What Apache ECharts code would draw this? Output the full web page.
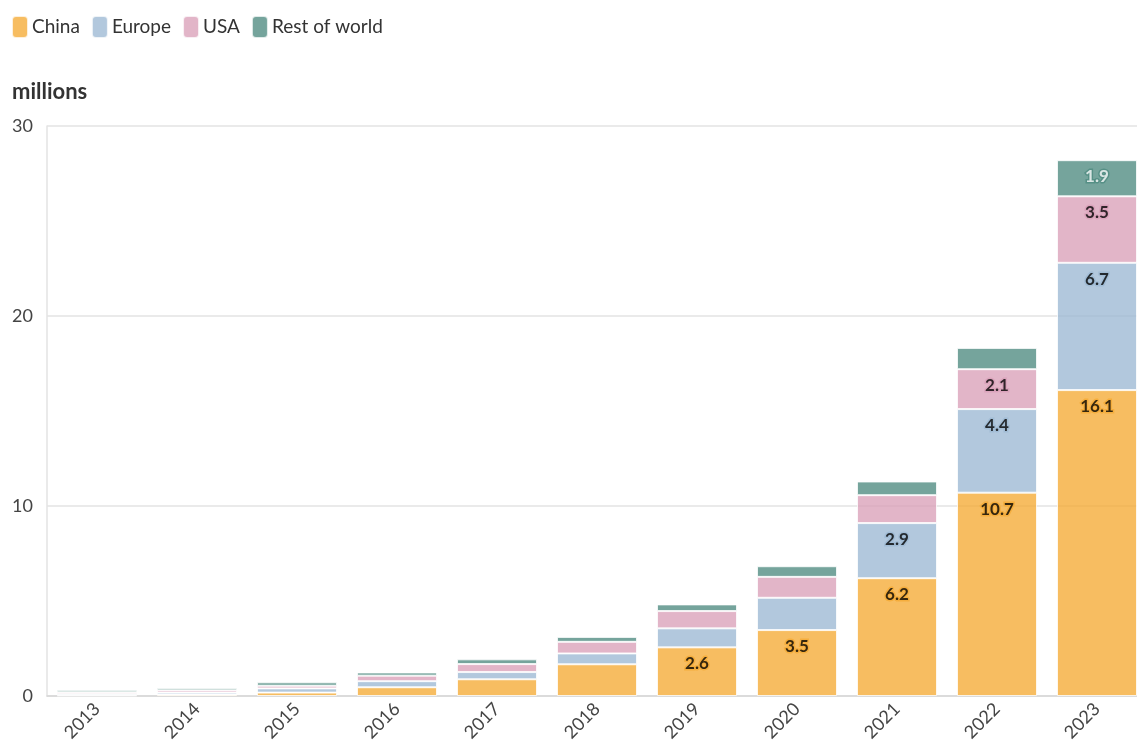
<!DOCTYPE html>
<html><head><meta charset="utf-8">
<script src="https://cdn.jsdelivr.net/npm/echarts@6/dist/echarts.min.js"></script>
<style>html,body{margin:0;padding:0;background:#fff;overflow:hidden}#c{width:1148px;height:751px}</style>
</head><body><div id="c"></div>
<script>
const years = ['2013','2014','2015','2016','2017','2018','2019','2020','2021','2022','2023'];
const china  = [0.03,0.08,0.18,0.46,0.88,1.67,2.56,3.47,6.2,10.7,16.1];
const europe = [0.08,0.10,0.22,0.32,0.38,0.57,1.0,1.7,2.9,4.4,6.7];
const usa    = [0.09,0.12,0.14,0.29,0.42,0.61,0.91,1.1,1.47,2.1,3.5];
const rest   = [0.11,0.12,0.18,0.17,0.25,0.26,0.35,0.56,0.72,1.12,1.9];
const yTicks = [0,10,20,30];

const FONT = 'Lato';
const defs = [
  {name:'China', data:china, color:'#f5ab35', halo:'#f5ab35', text:'#000'},
  {name:'Europe', data:europe, color:'#9cb9d3', halo:'#9cb9d3', text:'#000'},
  {name:'USA', data:usa, color:'#daa0b8', halo:'#daa0b8', text:'#000'},
  {name:'Rest of world', data:rest, color:'#4e8a80', halo:'#4e8a80', text:'#fff'}
];
const chart = echarts.init(document.getElementById('c'), null, {renderer:'canvas'});
chart.setOption({
  animation:false,
  textStyle:{fontFamily:FONT},
  legend:{
    left:11, top:15, padding:0, itemWidth:16, itemHeight:22, itemGap:11,
    icon:'roundRect',
    textStyle:{fontSize:19, color:'#333', fontFamily:FONT, padding:[0,0,0,-1]},
    data:defs.map(d=>d.name)
  },
  title:{text:'millions', left:7, top:76, textStyle:{fontSize:22, fontWeight:'bold', color:'#333', fontFamily:FONT}},
  grid:{left:47, top:126, bottom:55, right:1, containLabel:false},
  xAxis:{
    type:'category', data:years,
    axisLine:{lineStyle:{color:'#d6d6d6', width:1.5}},
    axisTick:{alignWithLabel:true, length:8, lineStyle:{color:'#d6d6d6', width:2}},
    axisLabel:{rotate:45, fontSize:18, color:'#444', margin:10, fontFamily:FONT}
  },
  yAxis:{
    type:'value', min:yTicks[0], max:yTicks[yTicks.length-1], interval:10,
    axisLine:{show:true, lineStyle:{color:'#e3e3e3', width:1.5}},
    splitLine:{lineStyle:{color:'#e3e3e3', width:1.5}},
    axisLabel:{fontSize:18, color:'#444', margin:14, fontFamily:FONT}
  },
  series:defs.map(d=>({
    name:d.name, type:'bar', stack:'total', data:d.data,
    barCategoryGap:'20%', z:1,
    itemStyle:{color:d.color, opacity:0.78, borderColor:'#fff', borderWidth:1},
    emphasis:{disabled:true},
    label:{
      show:true, position:'insideTop', distance:8,
      formatter:p=> p.value>=1.8 ? p.value.toFixed(1) : '',
      fontSize:17, fontWeight:'bold', color:d.text, fontFamily:FONT,
      textBorderColor:d.halo, textBorderWidth:3
    }
  }))
});
</script></body></html>
